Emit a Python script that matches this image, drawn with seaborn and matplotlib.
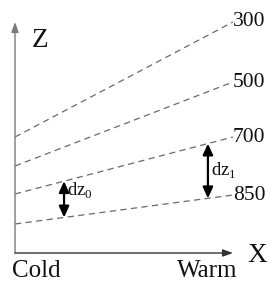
import numpy as np
import pandas as pd
import matplotlib
matplotlib.use("Agg")
import matplotlib.pyplot as plt
import seaborn as sns

# ---- data ----
levels = ["300", "500", "700", "850"]
x_pos = [0.0, 1.0]                 # Cold, Warm
z_cold = [116, 87, 59, 29]
z_warm = [231, 171, 116, 58]
dz_labels = ["dz$_0$", "dz$_1$"]
dz_x = [0.225, 0.885]
dz_pairs = [("700", "850"), ("700", "850")]
end_labels = ["Cold", "Warm"]

sns.set_theme(style="white")
plt.rcParams["font.family"] = ["Liberation Serif", "DejaVu Serif"]
plt.rcParams["mathtext.fontset"] = "custom"
plt.rcParams["mathtext.rm"] = "Liberation Serif"

rows = []
for lv, zc, zw in zip(levels, z_cold, z_warm):
    rows.append({"level": lv, "x": x_pos[0], "z": zc})
    rows.append({"level": lv, "x": x_pos[1], "z": zw})
df = pd.DataFrame(rows)

W, H = 269, 282
fig = plt.figure(figsize=(W / 100, H / 100), dpi=100)
x0, y0, x1, ytop = 15, 253, 233, 0
ax = fig.add_axes([x0 / W, (H - y0) / H, (x1 - x0) / W, (y0 - ytop) / H])
ax.set_xlim(0, 1)
ax.set_ylim(0, y0 - ytop)
ax.axis("off")

sns.lineplot(data=df, x="x", y="z", units="level", estimator=None,
             color="#6a6a6a", lw=0.9, ax=ax, legend=False)
for line in ax.lines:
    line.set_dashes([5, 3.5])

# axes arrows
ax.annotate("", xy=(0, 231), xytext=(0, 0),
            arrowprops=dict(arrowstyle="-|>,head_length=0.5,head_width=0.18",
                            color="#7a7a7a", lw=1.0, shrinkA=0, shrinkB=0),
            annotation_clip=False)
ax.annotate("", xy=(1.0, 0), xytext=(0, 0),
            arrowprops=dict(arrowstyle="-|>,head_length=0.5,head_width=0.18",
                            color="#333333", lw=1.0, shrinkA=0, shrinkB=0),
            annotation_clip=False)

# level labels
for lv, zw in zip(levels, z_warm):
    ax.text(1.0, zw, lv, fontsize=15.5, ha="left", va="center",
            color="#111111", clip_on=False)

# dz arrows
zc = dict(zip(levels, z_cold))
zw = dict(zip(levels, z_warm))
label_shift = [6, 0]
for lab, xx, (top, bot), sh in zip(dz_labels, dz_x, dz_pairs, label_shift):
    zt = zc[top] + (zw[top] - zc[top]) * xx
    zb = zc[bot] + (zw[bot] - zc[bot]) * xx
    ax.annotate("", xy=(xx, zt), xytext=(xx, zb),
                arrowprops=dict(arrowstyle="<|-|>,head_length=0.55,head_width=0.25",
                                color="black", lw=1.6, shrinkA=0, shrinkB=0))
    ax.annotate(lab, xy=(xx, (zt + zb) / 2), xytext=(2, sh),
                textcoords="offset points", fontsize=13.5, ha="left",
                va="center", color="#111111")

# axis names
ax.text(0.078, 213, "Z", fontsize=19.5, ha="left", va="center", color="#111111")
ax.text(1.068, -3, "X", fontsize=19.5, ha="left", va="center", color="#111111",
        clip_on=False)
ax.text(-0.015, -18, end_labels[0], fontsize=18, ha="left", va="center",
        color="#111111", clip_on=False)
ax.text(1.02, -18, end_labels[1], fontsize=18, ha="right", va="center",
        color="#111111", clip_on=False)

fig.savefig("out.png", dpi=100, facecolor="white")
